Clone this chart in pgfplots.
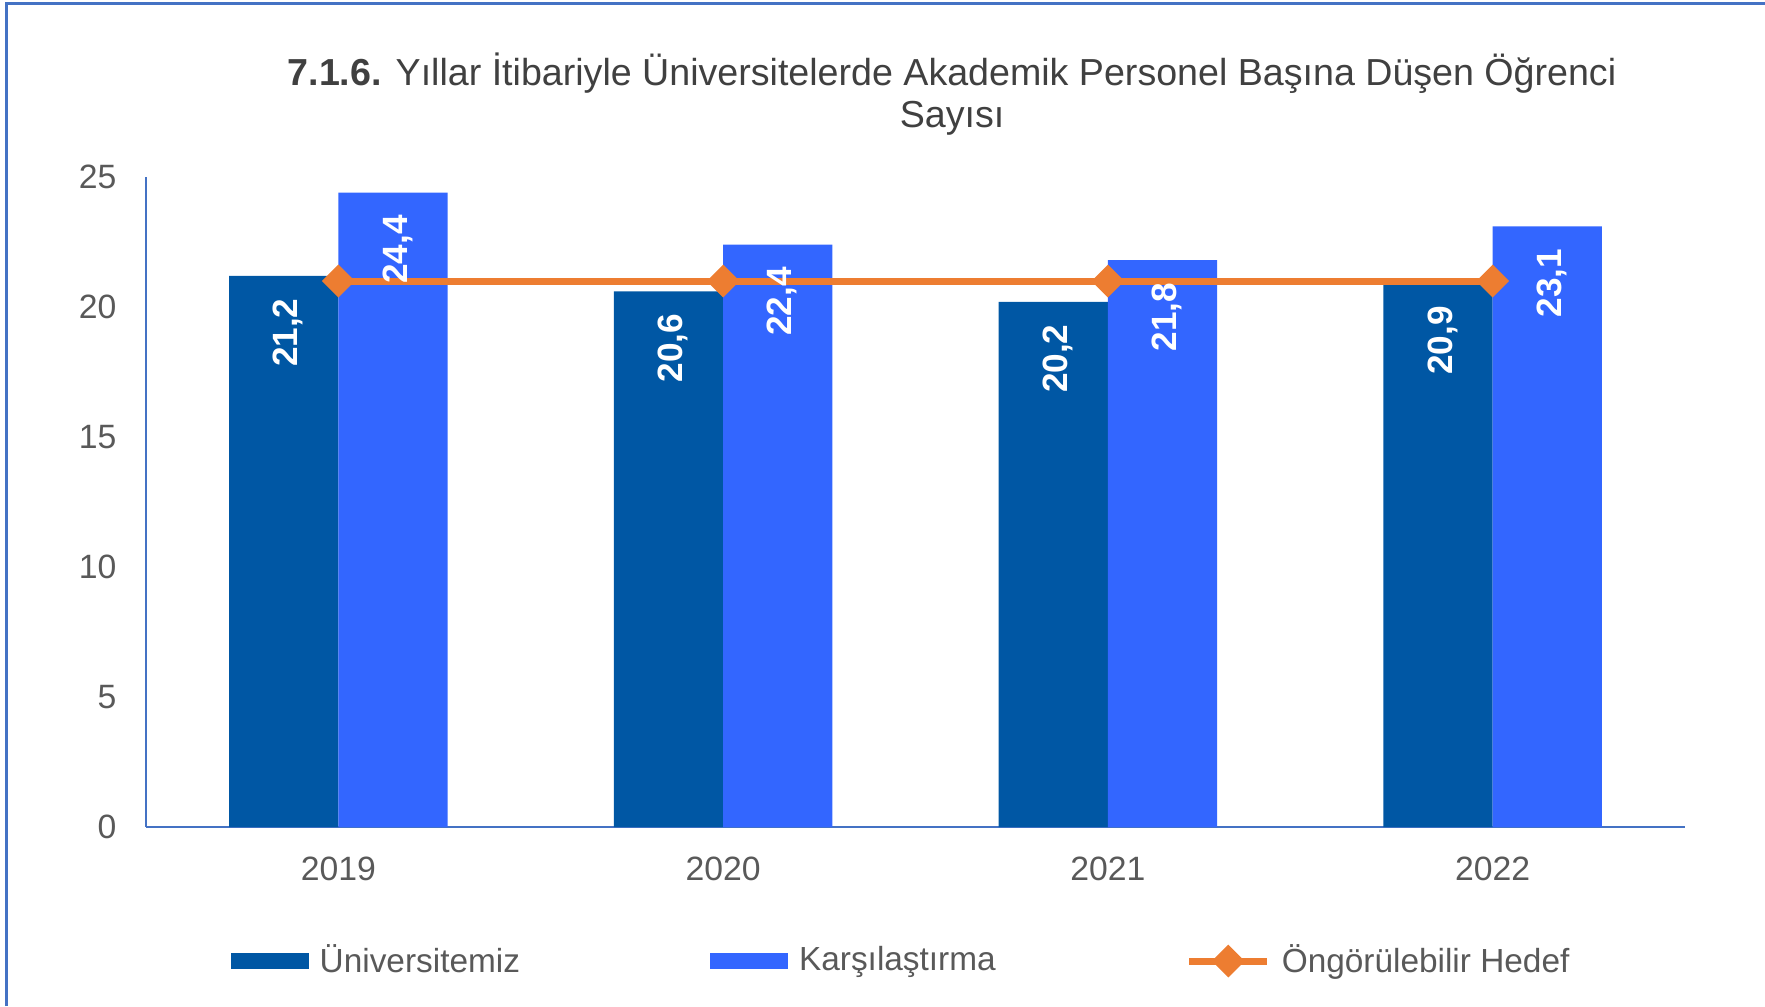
\documentclass[border=0pt]{standalone}
\usepackage{fontspec}
\setmainfont{Liberation Sans}
\usepackage{pgfplots}
\usepackage{pgfplotstable}
\pgfplotsset{compat=1.18}
\definecolor{darkbar}{HTML}{0057A4}
\definecolor{lightbar}{HTML}{3366FF}
\definecolor{orangec}{HTML}{ED7D31}
\definecolor{framec}{HTML}{4472C4}
\definecolor{txt}{HTML}{595959}
\definecolor{ttl}{HTML}{404040}
\tikzset{labelnode/.style={rotate=90, anchor=east, text=white,
    font=\bfseries\fontsize{10}{12}\selectfont, inner xsep=2.2mm, inner ysep=0pt}}

\pgfplotstableread{
x y
0 21.2
1 20.6
2 20.2
3 20.9
}\univ
\pgfplotstableread{
x y
0 24.4
1 22.4
2 21.8
3 23.1
}\karsi
\pgfplotstableread{
x y
0 21
1 21
2 21
3 21
}\hedef

\begin{document}
\begin{tikzpicture}
\useasboundingbox (-14.6mm,-17.9mm) rectangle (161.9mm,82.7mm);
\draw[framec, line width=0.3mm] (-13.92mm,-17.9mm) -- (-13.92mm,82.35mm) -- (161.9mm,82.35mm);
\begin{axis}[
  at={(0,0)}, anchor=south west,
  scale only axis, width=153.9mm, height=65mm,
  xmin=-0.5, xmax=3.5, ymin=0, ymax=25,
  axis x line*=bottom, axis y line*=left,
  axis line style={framec, line width=0.7pt},
  xtick={0,1,2,3}, xticklabels={2019,2020,2021,2022},
  ytick={0,5,...,25},
  major tick length=0pt,
  tick label style={font=\fontsize{9.6}{12}\selectfont, text=txt},
  /pgf/number format/assume math mode=true,
  yticklabel style={inner sep=0pt, anchor=east, xshift=-2.9mm},
  xticklabel style={inner sep=0pt, anchor=north, yshift=-2.9mm},
  clip=false,
  legend columns=3,
  legend style={at={(0,0)}, anchor=west, xshift=8.4mm, yshift=-13.4mm,
    draw=none, fill=none, inner sep=0pt,
    font=\fontsize{9.5}{12}\selectfont, text=txt,
    /tikz/every even column/.append style={column sep=19mm},
    /tikz/every odd column/.append style={column sep=1.1mm},
    nodes={inner sep=0pt}},
  legend cell align=left,
]
\addplot[ybar, bar width=0.284, bar shift=-0.142, fill=darkbar, draw=none,
  legend image code/.code={\fill[darkbar] (0mm,-0.8mm) rectangle (7.8mm,0.8mm);}]
  table {\univ};
\addlegendentry{Üniversitemiz}
\addplot[ybar, bar width=0.284, bar shift=0.142, fill=lightbar, draw=none,
  legend image code/.code={\fill[lightbar] (0mm,-0.8mm) rectangle (7.8mm,0.8mm);}]
  table {\karsi};
\addlegendentry{Karşılaştırma}
\addplot[orangec, line width=2pt, mark=square*, mark size=2.3pt, mark options={rotate=45},
  legend image code/.code={\draw[orangec, line width=2pt] (0mm,0mm) -- (7.8mm,0mm);
    \fill[orangec] (3.9mm,1.15mm) -- (5.05mm,0mm) -- (3.9mm,-1.15mm) -- (2.75mm,0mm) -- cycle;}]
  table {\hedef};
\addlegendentry{Öngörülebilir Hedef}
\addplot[draw=none, mark=none, forget plot,
  nodes near coords={\pgfmathprintnumber[assume math mode=true,use comma,fixed,fixed zerofill,precision=1]{\pgfplotspointmeta}},
  every node near coord/.append style={labelnode}]
  table[x expr=\thisrow{x}-0.130, y=y] {\univ};
\addplot[draw=none, mark=none, forget plot,
  nodes near coords={\pgfmathprintnumber[assume math mode=true,use comma,fixed,fixed zerofill,precision=1]{\pgfplotspointmeta}},
  every node near coord/.append style={labelnode}]
  table[x expr=\thisrow{x}+0.154, y=y] {\karsi};
\end{axis}
\node[align=center, text=ttl, font=\fontsize{10.7}{12}\selectfont] at (80.6mm,73.3mm)
  {\textbf{7.1.6.} Yıllar İtibariyle Üniversitelerde Akademik Personel Başına Düşen Öğrenci\\Sayısı};
\end{tikzpicture}
\end{document}
